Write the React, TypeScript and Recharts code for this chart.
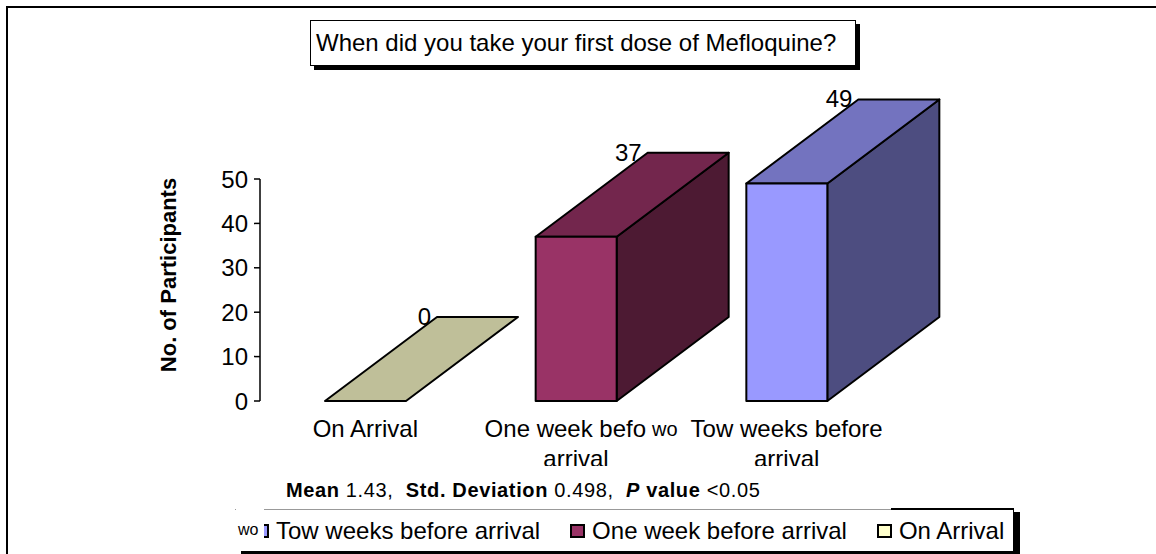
import { Bar, BarChart, LabelList, Legend, XAxis, YAxis } from "recharts";

const categories = ["On Arrival", "One week before arrival", "Tow weeks before arrival"];
const participants = [0, 37, 49];
const barColors = ["#FFFFCC", "#993366", "#9999FF"];
const yTicks = [0, 10, 20, 30, 40, 50];
const legendOrder = [2, 1, 0];

const FONT = '"Liberation Sans", Arial, sans-serif';
const DEPTH_X = 112;
const DEPTH_Y = 84;

const chartData = categories.map((name, i) => ({ name, value: participants[i] }));

function shade(hex: string, k: number) {
    const n = parseInt(hex.slice(1), 16);
    const c = [(n >> 16) & 255, (n >> 8) & 255, n & 255].map((v) => Math.round(v * k));
    return `rgb(${c[0]},${c[1]},${c[2]})`;
}

// 3D box on top of the bar rectangle that recharts works out
function BoxBar(props: any) {
    const { x, y, width, height, index } = props;
    const color = barColors[index];
    const r = x + width;
    const b = y + height;
    return (
        <g stroke="#000" strokeWidth={2} strokeLinejoin="round">
            {height > 0 && (
                <polygon
                    points={`${r},${y} ${r + DEPTH_X},${y - DEPTH_Y} ${r + DEPTH_X},${b - DEPTH_Y} ${r},${b}`}
                    fill={shade(color, 0.5)}
                />
            )}
            <polygon
                points={`${x},${y} ${x + DEPTH_X},${y - DEPTH_Y} ${r + DEPTH_X},${y - DEPTH_Y} ${r},${y}`}
                fill={shade(color, 0.75)}
            />
            {height > 0 && <rect x={x} y={y} width={width} height={height} fill={color} />}
        </g>
    );
}

function BoxLabel(props: any) {
    const { x, y, value } = props;
    return (
        <text x={x + DEPTH_X - 6} y={y - DEPTH_Y + 8} textAnchor="end" fontFamily={FONT} fontSize={24} fill="#000">
            {value}
        </text>
    );
}

function AxisTitle(props: any) {
    const { viewBox } = props;
    const tx = viewBox.x - 24;
    const ty = viewBox.y + viewBox.height / 2 - 15;
    return (
        <text
            x={tx}
            y={ty}
            transform={`rotate(-90 ${tx} ${ty})`}
            textAnchor="middle"
            fontFamily={FONT}
            fontSize={22}
            fontWeight={700}
            fill="#000"
        >
            No. of Participants
        </text>
    );
}

function CategoryTick(props: any) {
    const { x, y, payload } = props;
    const words = String(payload.value).split(" ");
    const lines = words.length > 2 ? [words.slice(0, -1).join(" "), words[words.length - 1]] : [payload.value];
    return (
        <text x={x} y={y + 30} textAnchor="middle" fontFamily={FONT} fontSize={24} fill="#000">
            {lines.map((line: string, i: number) => (
                <tspan key={line} x={x} dy={i === 0 ? 0 : 30}>
                    {line}
                </tspan>
            ))}
        </text>
    );
}

function LegendBox() {
    return (
        <div
            style={{
                position: "relative",
                display: "flex",
                alignItems: "center",
                width: 779,
                height: 42,
                boxSizing: "border-box",
                paddingLeft: 19,
                background: "#fff",
                borderTop: "1px solid #999",
                borderRight: "1px solid #000",
                boxShadow: "6px 3px 0 #000",
                fontFamily: FONT,
                fontSize: 24,
                color: "#000",
                whiteSpace: "nowrap",
            }}
        >
            <div style={{ position: "absolute", left: 656, right: -1, top: -2, height: 2, background: "#000" }} />
            {legendOrder.map((idx, i) => (
                <span key={idx} style={{ display: "flex", alignItems: "center", marginLeft: i === 0 ? 0 : 30 }}>
                    <span
                        style={{
                            display: "inline-block",
                            boxSizing: "border-box",
                            width: 15,
                            height: 14,
                            marginRight: 7,
                            background: barColors[idx],
                            border: "2px solid #000",
                        }}
                    />
                    {categories[idx]}
                </span>
            ))}
        </div>
    );
}

export default function App() {
    return (
        <div style={{ position: "absolute", left: 0, top: 0, width: 1156, height: 554, background: "#fff", overflow: "hidden" }}>
            <div style={{ position: "absolute", left: 6, top: 6, width: 1160, height: 560, boxSizing: "border-box", borderTop: "2px solid #000", borderLeft: "2px solid #000" }} />
            <BarChart
                width={1156}
                height={554}
                data={chartData}
                margin={{ top: 179, right: 264, bottom: 113, left: 200 }}
                barSize={81}
            >
                <XAxis dataKey="name" interval={0} height={40} axisLine={false} tickLine={false} tick={<CategoryTick />} tickMargin={0} />
                <YAxis
                    width={60}
                    domain={[0, 50]}
                    ticks={yTicks}
                    tickLine={{ stroke: "#000", strokeWidth: 1.5 }}
                    axisLine={{ stroke: "#000", strokeWidth: 1.5 }}
                    tickSize={6}
                    tickMargin={6}
                    tick={{ fill: "#000", fontSize: 24, fontFamily: FONT }}
                    label={<AxisTitle />}
                />
                <Bar dataKey="value" isAnimationActive={false} shape={<BoxBar />}>
                    <LabelList dataKey="value" content={<BoxLabel />} />
                </Bar>
                <Legend
                    verticalAlign="middle"
                    content={<LegendBox />}
                    wrapperStyle={{ position: "absolute", left: 235, top: 509, width: 779, bottom: "auto" }}
                />
            </BarChart>
            <div
                style={{
                    position: "absolute",
                    left: 310,
                    top: 20,
                    width: 546,
                    height: 46,
                    boxSizing: "border-box",
                    border: "1px solid #000",
                    boxShadow: "4px 4px 0 #000",
                    background: "#fff",
                    fontFamily: FONT,
                    fontSize: 24,
                    lineHeight: "44px",
                    paddingLeft: 5,
                    whiteSpace: "nowrap",
                }}
            >
                When did you take your first dose of Mefloquine?
            </div>
            <div style={{ position: "absolute", left: 646, top: 414, width: 40, height: 30, background: "#fff", fontFamily: FONT, fontSize: 20, lineHeight: "30px", paddingLeft: 6, boxSizing: "border-box" }}>
                wo
            </div>
            <div style={{ position: "absolute", left: 236, top: 505, width: 28, height: 44, background: "#fff", fontFamily: FONT, fontSize: 16, lineHeight: "50px", paddingLeft: 2, boxSizing: "border-box" }}>
                wo
            </div>
            <div style={{ position: "absolute", left: 280, top: 466, width: 640, height: 40, background: "#fff", fontFamily: FONT, fontSize: 20, letterSpacing: 0.63, lineHeight: "48px", paddingLeft: 6, boxSizing: "border-box", whiteSpace: "pre" }}>
                <b>Mean</b> 1.43,  <b>Std. Deviation</b> 0.498,  <b><i>P</i> value</b> {"<0.05"}
            </div>
        </div>
    );
}
